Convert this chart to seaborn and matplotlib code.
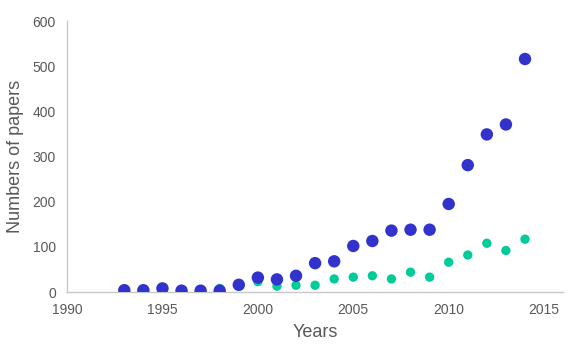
import numpy as np
import pandas as pd
import seaborn as sns
import matplotlib.pyplot as plt

sns.set_style("white")
plt.rcParams['font.family'] = ['Liberation Sans', 'DejaVu Sans']

# values
years_all = list(range(1993, 2015))
papers_all = [4, 4, 8, 3, 3, 3, 16, 32, 28, 36, 64, 68, 102, 113, 136, 138, 138, 195, 281, 349, 371, 516]

years_sub = list(range(1998, 2015))
papers_sub = [8, 13, 23, 13, 15, 15, 29, 33, 36, 29, 44, 33, 66, 82, 108, 92, 117]

colors = {"all": "#3232CC", "sub": "#00CC99"}

df_all = pd.DataFrame({"Year": years_all, "Papers": papers_all})
df_sub = pd.DataFrame({"Year": years_sub, "Papers": papers_sub})

fig = plt.figure(figsize=(5.83, 3.51), dpi=100)
ax = fig.add_axes([0.115, 0.168, 0.851, 0.772])

sns.scatterplot(data=df_sub, x="Year", y="Papers", color=colors["sub"],
                s=45, edgecolor="none", ax=ax, zorder=3)
sns.scatterplot(data=df_all, x="Year", y="Papers", color=colors["all"],
                s=80, edgecolor="none", ax=ax, zorder=4)

ax.set_xlim(1990, 2016)
ax.set_ylim(0, 600)
ax.set_xticks([1990, 1995, 2000, 2005, 2010, 2015])
ax.set_yticks(range(0, 601, 100))

for side in ["top", "right"]:
    ax.spines[side].set_visible(False)
for side in ["left", "bottom"]:
    ax.spines[side].set_color("#C8C8C8")
    ax.spines[side].set_linewidth(1)
ax.spines["bottom"].set_zorder(0)

ax.tick_params(axis="both", length=0, labelsize=10, labelcolor="#595959")
ax.tick_params(axis="x", pad=8)
ax.tick_params(axis="y", pad=8)
ax.set_xlabel("Years", fontsize=13, color="#595959", labelpad=5)
ax.set_ylabel("Numbers of papers", fontsize=13, color="#595959", labelpad=6)
ax.grid(False)

fig.savefig("out.png", dpi=100)
